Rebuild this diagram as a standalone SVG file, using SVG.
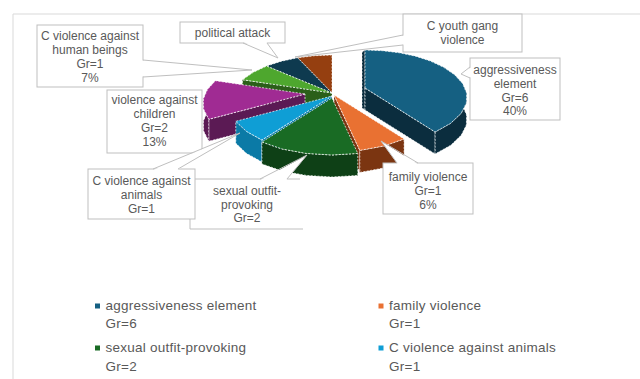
<svg xmlns="http://www.w3.org/2000/svg" width="640" height="379" viewBox="0 0 640 379">
<style>
.face{stroke:#ffffff;stroke-width:0.7;stroke-dasharray:2 1.4;stroke-linejoin:round}
.box{fill:#ffffff;stroke:#bfbfbf;stroke-width:1}
.lbl{font-family:"Liberation Sans",Arial,sans-serif;font-size:12px;fill:#595959;text-anchor:middle}
.leg{font-family:"Liberation Sans",Arial,sans-serif;font-size:13.5px;fill:#595959;letter-spacing:0.25px}
.wedge{fill:#ffffff;stroke:none}
.lead{fill:none;stroke:#bfbfbf;stroke-width:1;stroke-linejoin:miter}
</style>
<rect x="0" y="0" width="640" height="379" fill="#ffffff"/>
<path d="M13,379 V14 H640" fill="none" stroke="#d9d9d9" stroke-width="1"/>

<g id="pie">
  <g id="slice-youth-gang">
    <path class="face" fill="#5e270a" d="M332,93 L297.6,57.8 L297.6,79.8 L332,115 Z"/>
    <path class="face" fill="#953f10" d="M332,93 L297.6,57.8 L314.6,55.7 L332,55 Z"/>
  </g>
  <g id="slice-political">
    <path class="face" fill="#082330" d="M332,93 L266.5,66.1 L266.5,88.1 L332,115 Z"/>
    <path class="face" fill="#0e3a4f" d="M332,93 L266.5,66.1 L281.4,61.2 L297.6,57.8 Z"/>
  </g>
  <g id="slice-human-beings">
    <path class="face" fill="#2b5f19" d="M332,93 L242.4,79.7 L242.4,101.7 L332,115 Z"/>
    <path class="face" fill="#4ea72e" d="M332,93 L242.4,79.7 L253.3,72.3 L266.5,66.1 Z"/>
  </g>
  <g id="slice-aggressiveness">
    <path class="face" fill="#0b2d3e" d="M362,52 L365,50 L365,110 L362,108 Z"/>
    <path class="face" fill="#0b2d3e" d="M365,88 L435.1,132 L435.1,154 L365,110 Z"/>
    <path class="face" fill="#0b2d3e" d="M462.4,83.3 L466.6,92.9 L466.4,103 L461.2,113.3 L450.8,123.2 L435.1,132 L435.1,154 L450.8,145.2 L461.2,135.3 L466.4,125 L466.6,114.9 L462.4,105.3 Z"/>
    <path class="face" fill="#156082" d="M365,88 L365,50 L382.4,50.7 L399.4,52.8 L415.6,56.2 L430.5,61.1 L443.7,67.3 L454.6,74.7 L462.4,83.3 L466.6,92.9 L466.4,103 L461.2,113.3 L450.8,123.2 L435.1,132 Z"/>
  </g>
  <g id="slice-children">
    <path class="face" fill="#5b1a54" d="M305,94 L208.8,119.3 L208.8,141.3 L305,116 Z"/>
    <path class="face" fill="#5b1a54" d="M208.8,119.3 L203.6,109 L203.4,98.9 L207.6,89.3 L207.6,111.3 L203.4,120.9 L203.6,131 L208.8,141.3 Z"/>
    <path class="face" fill="#a02b93" d="M305,94 L208.8,119.3 L203.6,109 L203.4,98.9 L207.6,89.3 L215.4,80.7 Z"/>
  </g>
  <g id="slice-animals">
    <path class="face" fill="#0b7aa6" d="M332,96 L261.9,140 L261.9,162 L332,118 Z"/>
    <path class="face" fill="#0b7aa6" d="M235.8,121.3 L246.2,131.2 L261.9,140 L261.9,162 L246.2,153.2 L235.8,143.3 Z"/>
    <path class="face" fill="#0f9ed5" d="M332,96 L261.9,140 L246.2,131.2 L235.8,121.3 Z"/>
  </g>
  <g id="slice-family">
    <path class="face" fill="#7b3511" d="M334,95 L359.8,150.4 L359.8,172.4 L334,117 Z"/>
    <path class="face" fill="#7b3511" d="M404.1,139 L383.8,146 L359.8,150.4 L359.8,172.4 L383.8,168 L404.1,161 Z"/>
    <path class="face" fill="#e97132" d="M334,95 L404.1,139 L383.8,146 L359.8,150.4 Z"/>
  </g>
  <g id="slice-sexual">
    <path class="face" fill="#0e4016" d="M357.8,153.4 L332,155 L306.2,153.4 L282.2,149 L261.9,142 L261.9,164 L282.2,171 L306.2,175.4 L332,177 L357.8,175.4 Z"/>
    <path class="face" fill="#196b24" d="M332,98 L357.8,153.4 L332,155 L306.2,153.4 L282.2,149 L261.9,142 Z"/>
  </g>
</g>

<g id="label-sexual">
  <rect x="190" y="179" width="113" height="50" fill="#ffffff"/>
  <path d="M190,179 V229 H303 M190,179 H300" fill="none" stroke="#bfbfbf" stroke-width="1"/>
  <text class="lbl" x="247" y="195">sexual outfit-</text>
  <text class="lbl" x="247" y="209">provoking</text>
  <text class="lbl" x="247" y="222">Gr=2</text>
</g>
<g id="label-animals">
  <rect class="box" x="88" y="169" width="107" height="50"/>
  <text class="lbl" x="141.5" y="184.5">C violence against</text>
  <text class="lbl" x="141.5" y="198.5">animals</text>
  <text class="lbl" x="141.5" y="212.5">Gr=1</text>
</g>
<g id="label-children">
  <rect class="box" x="107" y="90" width="95" height="63"/>
  <text class="lbl" x="154.5" y="104">violence against</text>
  <text class="lbl" x="154.5" y="118">children</text>
  <text class="lbl" x="154.5" y="132">Gr=2</text>
  <text class="lbl" x="154.5" y="146">13%</text>
</g>
<g id="label-human-beings">
  <rect class="box" x="37" y="25" width="106" height="62"/>
  <text class="lbl" x="90" y="39.5">C violence against</text>
  <text class="lbl" x="90" y="53.5">human beings</text>
  <text class="lbl" x="90" y="67.5">Gr=1</text>
  <text class="lbl" x="90" y="81.5">7%</text>
</g>
<g id="label-political">
  <rect class="box" x="180" y="22" width="105" height="21"/>
  <text class="lbl" x="232.5" y="37">political attack</text>
</g>
<g id="label-youth-gang">
  <rect class="box" x="403" y="14" width="119" height="38"/>
  <text class="lbl" x="462.5" y="30">C youth gang</text>
  <text class="lbl" x="462.5" y="44">violence</text>
</g>
<g id="label-aggressiveness">
  <rect class="box" x="470" y="58" width="90" height="62"/>
  <text class="lbl" x="515" y="74">aggressiveness</text>
  <text class="lbl" x="515" y="88">element</text>
  <text class="lbl" x="515" y="101.5">Gr=6</text>
  <text class="lbl" x="515" y="115">40%</text>
</g>
<g id="label-family">
  <rect class="box" x="383" y="163" width="90" height="51"/>
  <text class="lbl" x="428" y="181">family violence</text>
  <text class="lbl" x="428" y="195">Gr=1</text>
  <text class="lbl" x="428" y="209">6%</text>
</g>

<g id="connectors">
  <polygon class="wedge" points="142,60.5 252,70 142,76.5"/>
  <polyline class="lead" points="143,60 252,70 143,77"/>
  <polygon class="wedge" points="243.5,42 278,58 266.5,42"/>
  <polyline class="lead" points="243,43 278,58 267,43"/>
  <polygon class="wedge" points="404,35.5 295,57 404,44.5"/>
  <polyline class="lead" points="403,35 295,57 403,45"/>
  <polygon class="wedge" points="471,67.5 461,74 471,77.5"/>
  <polyline class="lead" points="470,67 461,74 470,78"/>
  <polygon class="wedge" points="153.5,170 240,133 177.5,170"/>
  <polyline class="lead" points="153,169 240,133 178,169"/>
  <polygon class="wedge" points="260.5,180 307,155 286.5,180"/>
  <polyline class="lead" points="260,179 307,155 287,179"/>
  <polygon class="wedge" points="397.5,164 381,141 417.5,164"/>
  <polyline class="lead" points="397,163 381,141 418,163"/>
</g>

<g id="legend">
  <g id="legend-aggressiveness">
    <rect x="95" y="303.5" width="5" height="5" fill="#156082"/>
    <text class="leg" x="105.5" y="310">aggressiveness element</text>
    <text class="leg" x="105.5" y="328">Gr=6</text>
  </g>
  <g id="legend-family">
    <rect x="378.5" y="303.5" width="5" height="5" fill="#e97132"/>
    <text class="leg" x="389" y="310">family violence</text>
    <text class="leg" x="389" y="328">Gr=1</text>
  </g>
  <g id="legend-sexual">
    <rect x="95" y="345.5" width="5" height="5" fill="#196b24"/>
    <text class="leg" x="105.5" y="352">sexual outfit-provoking</text>
    <text class="leg" x="105.5" y="371">Gr=2</text>
  </g>
  <g id="legend-animals">
    <rect x="378.5" y="345.5" width="5" height="5" fill="#0f9ed5"/>
    <text class="leg" x="389" y="352">C violence against animals</text>
    <text class="leg" x="389" y="371">Gr=1</text>
  </g>
</g>
</svg>
